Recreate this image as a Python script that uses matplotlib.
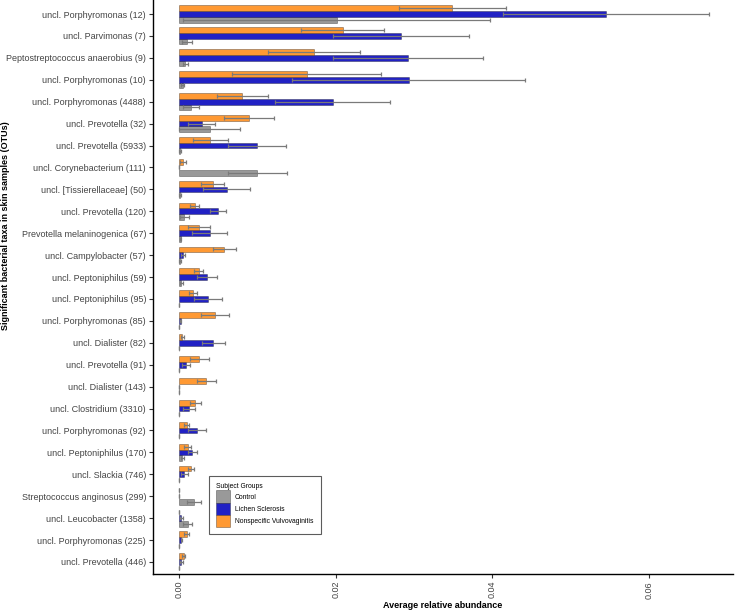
import matplotlib
matplotlib.use("Agg")
import matplotlib.pyplot as plt
import numpy as np

plt.rcParams['font.family'] = ['Liberation Sans', 'DejaVu Sans']

# OTU labels, top to bottom
taxa = ['uncl. Porphyromonas (12)', 'uncl. Parvimonas (7)', 'Peptostreptococcus anaerobius (9)',
        'uncl. Porphyromonas (10)', 'uncl. Porphyromonas (4488)', 'uncl. Prevotella (32)',
        'uncl. Prevotella (5933)', 'uncl. Corynebacterium (111)', 'uncl. [Tissierellaceae] (50)',
        'uncl. Prevotella (120)', 'Prevotella melaninogenica (67)', 'uncl. Campylobacter (57)',
        'uncl. Peptoniphilus (59)', 'uncl. Peptoniphilus (95)', 'uncl. Porphyromonas (85)',
        'uncl. Dialister (82)', 'uncl. Prevotella (91)', 'uncl. Dialister (143)',
        'uncl. Clostridium (3310)', 'uncl. Porphyromonas (92)', 'uncl. Peptoniphilus (170)',
        'uncl. Slackia (746)', 'Streptococcus anginosus (299)', 'uncl. Leucobacter (1358)',
        'uncl. Porphyromonas (225)', 'uncl. Prevotella (446)']

# Nonspecific Vulvovaginitis
nv_mean = [0.0349, 0.0209, 0.0172, 0.0163, 0.0081, 0.0089, 0.0040, 0.0005, 0.0043, 0.0020,
           0.0026, 0.0058, 0.0025, 0.0018, 0.0046, 0.0004, 0.0026, 0.0035, 0.0021, 0.0010,
           0.0011, 0.0015, 0.00005, 0.0, 0.0010, 0.0006]
nv_sd = [0.0068, 0.0053, 0.0059, 0.0095, 0.0033, 0.0032, 0.0022, 0.0004, 0.0015, 0.0006,
         0.0014, 0.0015, 0.0006, 0.0005, 0.0018, 0.0002, 0.0012, 0.0012, 0.0007, 0.0003,
         0.0004, 0.0004, 0.0, 0.0, 0.0003, 0.0002]

# Lichen Sclerosis
ls_mean = [0.0545, 0.0283, 0.0292, 0.0293, 0.0196, 0.0029, 0.0099, 0.00005, 0.0061, 0.0050,
           0.0039, 0.0005, 0.0036, 0.0037, 0.0002, 0.0044, 0.0009, 0.0, 0.0013, 0.0023,
           0.0017, 0.0007, 0.0, 0.0003, 0.0003, 0.0003]
ls_sd = [0.0132, 0.0087, 0.0096, 0.0149, 0.0073, 0.0017, 0.0037, 0.0, 0.0030, 0.0010,
         0.0022, 0.0003, 0.0013, 0.0018, 0.0001, 0.0015, 0.0005, 0.0, 0.0008, 0.0012,
         0.0006, 0.0004, 0.0, 0.0002, 0.0001, 0.0002]

# Control
c_mean = [0.0201, 0.0010, 0.0008, 0.0005, 0.0015, 0.0039, 0.0001, 0.0100, 0.0001, 0.0007,
          0.0002, 0.0001, 0.0003, 0.0, 0.0, 0.0, 0.0, 0.0, 0.0, 0.0,
          0.0004, 0.0, 0.0019, 0.0011, 0.0, 0.0]
c_sd = [0.0196, 0.0006, 0.0003, 0.0002, 0.0010, 0.0039, 0.0001, 0.0038, 0.0001, 0.0006,
        0.0001, 0.0001, 0.0002, 0.0, 0.0, 0.0, 0.0, 0.0, 0.0, 0.0,
        0.0002, 0.0, 0.0009, 0.0006, 0.0, 0.0]

groups = ['Control', 'Lichen Sclerosis', 'Nonspecific Vulvovaginitis']
colors = ['#999999', '#2121C4', '#FF9933']

fig = plt.figure(figsize=(7.36, 6.13), dpi=100)
ax = fig.add_axes([153 / 736, 39 / 613, 580 / 736, 574 / 613])

y = np.arange(len(taxa))
h = 0.26
series = [(c_mean, c_sd, h), (ls_mean, ls_sd, 0.0), (nv_mean, nv_sd, -h)]
for (m, s, off), col, name in zip(series, colors, groups):
    ax.barh(y + off, m, height=h, color=col, edgecolor=(0, 0, 0, 0.35), linewidth=0.6,
            label=name, zorder=2)
    eb = ax.errorbar(m, y + off, xerr=s, fmt='none', ecolor='#7a7a7a', elinewidth=0.9,
                     capsize=1.4, capthick=0.9, zorder=3)
    for cap in eb[1]:
        cap.set_color('#333333')

ax.set_yticks(y)
ax.set_yticklabels(taxa, fontsize=6.5, color='#444444')
ax.set_ylim(25.55, -0.64)
ax.set_xlim(-0.00332, 0.0707)
ax.set_xticks([0.0, 0.02, 0.04, 0.06])
ax.set_xticklabels(['0.00', '0.02', '0.04', '0.06'], rotation=90, fontsize=6.5, color='#444444')
ax.tick_params(axis='both', length=3, width=0.8, color='#333333', pad=2)

for side in ['top', 'right']:
    ax.spines[side].set_visible(False)
for side in ['left', 'bottom']:
    ax.spines[side].set_linewidth(1.0)

fig.text(443 / 736, 1 - 605 / 613, 'Average relative abundance', ha='center', va='center',
         fontsize=6.5, fontweight='bold')
fig.text(6 / 736, 1 - 226 / 613, 'Significant bacterial taxa in skin samples (OTUs)',
         ha='center', va='center', rotation=90, fontsize=6.5, fontweight='bold')

leg = ax.legend(title='Subject Groups', loc='upper left', bbox_to_anchor=(209 / 736, 1 - 476 / 613),
                bbox_transform=fig.transFigure, borderaxespad=0, fontsize=4.9, title_fontsize=4.9,
                handlelength=2.05, handleheight=2.35, handletextpad=0.65, labelspacing=0.0,
                frameon=True, fancybox=False, edgecolor='#333333', borderpad=1.1)
leg._legend_box.align = 'left'
leg.get_frame().set_linewidth(0.8)

fig.savefig('out.png', dpi=100)
